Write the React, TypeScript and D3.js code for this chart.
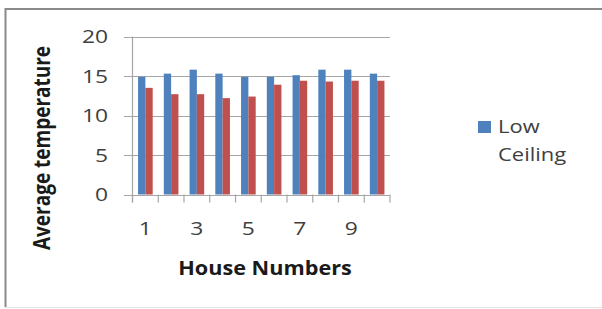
import React from "react";
import * as d3 from "d3";

const houses = [1, 2, 3, 4, 5, 6, 7, 8, 9, 10];
const lowCeiling = [14.9, 15.3, 15.8, 15.3, 14.9, 14.9, 15.1, 15.8, 15.8, 15.3];
const highCeiling = [13.5, 12.7, 12.7, 12.2, 12.4, 13.9, 14.4, 14.3, 14.4, 14.4];
const yTicks = [0, 5, 10, 15, 20];
const xTickLabels = [1, 3, 5, 7, 9];
const seriesKeys = ["low", "high"];
const seriesColors = ["#4F81BD", "#C0504D"];
const legendLines = ["Low", "Ceiling"];

const W = 602;
const H = 309;
const FONT = "'Open Sans', 'DejaVu Sans', sans-serif";
const SX = 1.2; // horizontal stretch of the source image

function SText({ x, y, anchor = "start", size, weight = "normal", fill, children, sx = SX }: any) {
  return (
    <g transform={`translate(${x},${y}) scale(${sx},1)`}>
      <text x={0} y={0} textAnchor={anchor} fontFamily={FONT} fontSize={size} fontWeight={weight} fill={fill}>
        {children}
      </text>
    </g>
  );
}

export default function App() {
  const x0 = d3.scaleBand<number>().domain(houses).range([132.5, 390]).paddingInner(0).paddingOuter(0);
  const x1 = d3.scaleBand<string>().domain(seriesKeys).range([0, x0.bandwidth()]).paddingInner(0).paddingOuter(0.76);
  const y = d3.scaleLinear().domain([0, 20]).range([194.5, 36.5]);
  const values = [lowCeiling, highCeiling];
  const tickXs = houses.map((h) => x0(h)!).concat([x0.range()[1]]);

  return (
    <svg width={W} height={H} style={{ position: "absolute", left: 0, top: 0, background: "#fff" }}>
      <rect x={0} y={0} width={W} height={H} fill="#fff" />
      {/* outer frame */}
      <line x1={5.5} x2={W} y1={9} y2={9} stroke="#8a8a8a" strokeWidth={2} />
      <line x1={5.5} x2={5.5} y1={8} y2={307} stroke="#8a8a8a" strokeWidth={2} />
      <line x1={5} x2={W} y1={307.5} y2={307.5} stroke="#e4e4e4" strokeWidth={1} />

      {/* gridlines */}
      {yTicks.map((t) => (
        <line key={t} x1={124} x2={390} y1={Math.round(y(t)) + 0.5} y2={Math.round(y(t)) + 0.5} stroke="#a6a6a6" strokeWidth={1.2} />
      ))}
      {/* y axis */}
      <line x1={132.5} x2={132.5} y1={y(20)} y2={y(0) + 8} stroke="#a6a6a6" strokeWidth={1.2} />
      {/* x ticks */}
      {tickXs.map((tx, i) => (
        <line key={i} x1={tx} x2={tx} y1={y(0)} y2={y(0) + 8} stroke="#a6a6a6" strokeWidth={1.2} />
      ))}

      {/* bars */}
      {houses.map((h, i) => (
        <g key={h} transform={`translate(${x0(h)},0)`}>
          {seriesKeys.map((k, j) => (
            <rect
              key={k}
              x={x1(k)}
              y={y(values[j][i])}
              width={x1.bandwidth()}
              height={y(0) - y(values[j][i])}
              fill={seriesColors[j]}
            />
          ))}
        </g>
      ))}

      {/* y tick labels */}
      {yTicks.map((t) => (
        <SText key={t} x={108} y={y(t) + 6.8} anchor="end" size={19} fill="#404040">
          {t}
        </SText>
      ))}
      {/* x tick labels */}
      {xTickLabels.map((t) => (
        <SText key={t} x={x0(t)! + x0.bandwidth() / 2} y={235} anchor="middle" size={19} fill="#404040">
          {t}
        </SText>
      ))}

      {/* axis titles */}
      <SText x={265} y={275} anchor="middle" size={19} weight="bold" fill="#1a1a1a" sx={1.14}>
        House Numbers
      </SText>
      <g transform="translate(50,148) scale(1.2,1) rotate(-90)">
        <text x={0} y={0} textAnchor="middle" fontFamily={FONT} fontSize={19} fontWeight="bold" fill="#1a1a1a">
          Average temperature
        </text>
      </g>

      {/* legend */}
      <rect x={478} y={121} width={13} height={12} fill={seriesColors[0]} />
      {legendLines.map((s, i) => (
        <SText key={s} x={498} y={133 + i * 28} size={18} fill="#404040" sx={1.22}>
          {s}
        </SText>
      ))}
    </svg>
  );
}
